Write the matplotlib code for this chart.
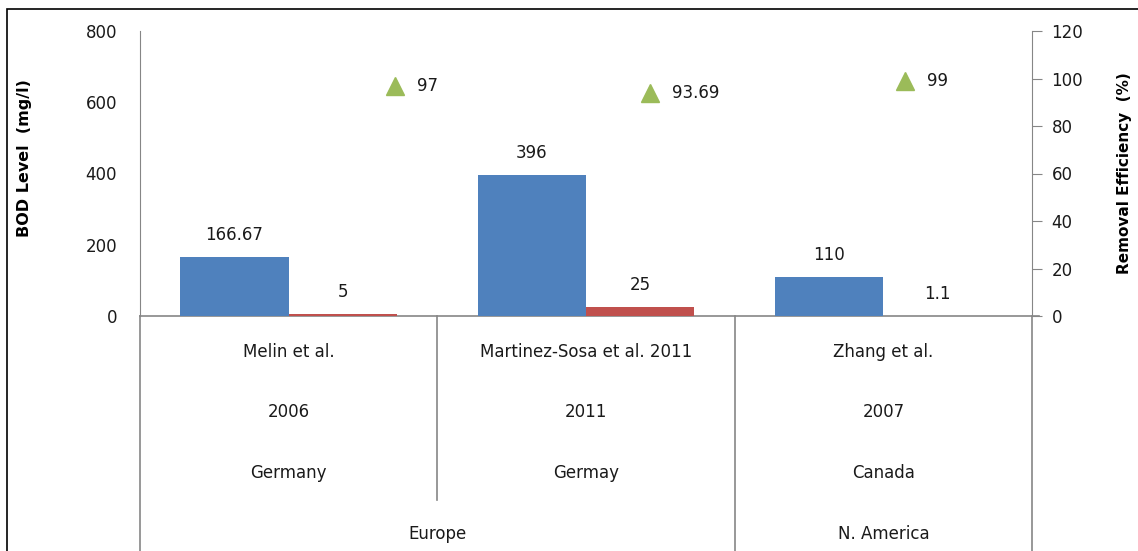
import matplotlib
matplotlib.use("Agg")
import matplotlib.pyplot as plt
from matplotlib.patches import Rectangle
from matplotlib.lines import Line2D

# data
studies = ["Melin et al.", "Martinez-Sosa et al. 2011", "Zhang et al."]
years = ["2006", "2011", "2007"]
countries = ["Germany", "Germay", "Canada"]
regions = ["Europe", "N. America"]
region_span = [(0, 2), (2, 3)]
influent = [166.67, 396, 110]
effluent = [5, 25, 1.1]
removal = [97, 93.69, 99]
removal_labels = ["97", "93.69", "99"]

blue = "#4F81BD"
red = "#C0504D"
green = "#9BBB59"
grey = "#868686"
txt = "#1a1a1a"

W, H = 1138, 551
fig = plt.figure(figsize=(W / 100, H / 100), dpi=100)
plt.rcParams['font.family'] = ['DejaVu Sans']

x0, x1 = 140, 1032
y_top, y_zero = 31, 316
ax = fig.add_axes([x0 / W, (H - y_zero) / H, (x1 - x0) / W, (y_zero - y_top) / H])
ax2 = ax.twinx()
ax3 = ax2.twiny()

n = len(studies)
bw = 0.364
xs = [i + 0.5 for i in range(n)]
b1 = ax.bar([x - bw / 2 for x in xs], influent, width=bw, color=blue, zorder=3)
b2 = ax.bar([x + bw / 2 for x in xs], effluent, width=bw, color=red, zorder=3)
for rect, v in zip(b1, influent):
    ax.annotate(f"{v:g}", (rect.get_x() + rect.get_width() / 2, v), xytext=(0, 22),
                textcoords="offset pixels", ha="center", va="center", fontsize=12, color=txt)
for rect, v in zip(b2, effluent):
    ax.annotate(f"{v:g}", (rect.get_x() + rect.get_width() / 2, v), xytext=(0, 22),
                textcoords="offset pixels", ha="center", va="center", fontsize=12, color=txt)

ax.set_xlim(0, n)
ax.set_ylim(0, 800)
ax.set_yticks(range(0, 801, 200))
ax.set_xticks([])
ax.tick_params(axis="y", length=0, pad=16.5, labelsize=12, labelcolor=txt)
for s in ["top", "right", "bottom"]:
    ax.spines[s].set_visible(False)
ax.spines["left"].set_color(grey)
ax.set_ylabel("BOD Level  (mg/l)", fontsize=11.5, fontweight="bold")
ax.yaxis.set_label_coords(-0.121, 0.554)

# secondary axis for removal efficiency
ax2.set_ylim(0, 120)
ax2.set_yticks(range(0, 121, 20))
ax2.tick_params(axis="y", length=7, color=grey, pad=7, labelsize=12, labelcolor=txt)
for s in ["top", "left", "bottom"]:
    ax2.spines[s].set_visible(False)
ax2.spines["right"].set_color(grey)
ax2.set_ylabel("Removal Efficiency  (%)", fontsize=11, fontweight="bold")
ax2.yaxis.set_label_coords(1.095, 0.5)

ax3.set_xlim(0, n + 0.5)
ax3.set_xticks([])
for s in ax3.spines.values():
    s.set_visible(False)
ax3.plot(range(1, n + 1), removal, linestyle="none", marker="^", markersize=13,
         color=green, zorder=4)
for i, (v, lab) in enumerate(zip(removal, removal_labels)):
    ax3.annotate(lab, (i + 1, v), xytext=(22, 0), textcoords="offset pixels",
                 ha="left", va="center", fontsize=12, color=txt)

# horizontal zero line extending under the right axis tick
ax.add_line(Line2D([0, n + 0.024], [0, 0], color=grey, lw=1.2, clip_on=False, zorder=2))

# multi-level category axis
tr = ax.get_xaxis_transform()
def yf(py):
    return (y_zero - py) / (y_zero - y_top)

rows = [studies, years, countries]
row_y = [352, 412, 473]
for labels, py in zip(rows, row_y):
    for x, lab in zip(xs, labels):
        ax.text(x, yf(py), lab, transform=tr, ha="center", va="center",
                fontsize=12, color=txt, clip_on=False)
for lab, (a, b) in zip(regions, region_span):
    ax.text((a + b) / 2, yf(534), lab, transform=tr, ha="center", va="center",
            fontsize=12, color=txt, clip_on=False)

bottom = yf(560)
for xb in [0, 2, 3]:
    ax.add_line(Line2D([xb, xb], [0, bottom], transform=tr, color=grey, lw=1.2, clip_on=False))
ax.add_line(Line2D([1, 1], [0, yf(500)], transform=tr, color=grey, lw=1.2, clip_on=False))

# chart border
fig.patches.append(Rectangle((7 / W, -0.05), 1.1, (H - 9) / H + 0.05, transform=fig.transFigure,
                             fill=False, edgecolor="black", lw=1.2))

fig.savefig("out.png", dpi=100)
